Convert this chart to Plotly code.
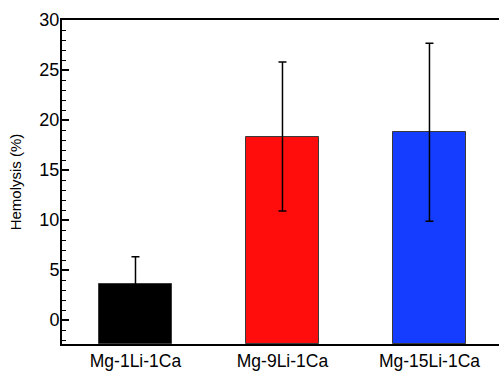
import plotly.graph_objects as go

# Hemolysis of the three Mg-Li-Ca alloys
categories = ["Mg-1Li-1Ca", "Mg-9Li-1Ca", "Mg-15Li-1Ca"]
hemolysis = [3.65, 18.35, 18.78]
hemolysis_sd = [2.68, 7.45, 8.9]
bar_colors = ["#000000", "#FF0D0D", "#153DFF"]

y_ticks = [0, 5, 10, 15, 20, 25, 30]
y_min, y_max = -2.4, 30

FONT = "Liberation Sans, Arial, sans-serif"

fig = go.Figure()
# bars rise from the bottom of the frame
fig.add_trace(go.Bar(
    x=list(range(len(categories))),
    y=[v - y_min for v in hemolysis],
    base=y_min,
    width=0.5,
    marker=dict(color=bar_colors, line=dict(color="#3a3a3a", width=1)),
    error_y=dict(type="data", array=hemolysis_sd, visible=True,
                 color="#000000", thickness=1.5, width=4),
    showlegend=False,
))

fig.update_layout(
    width=499, height=372,
    margin=dict(l=62, r=0, t=20, b=28),
    paper_bgcolor="white", plot_bgcolor="white",
    font=dict(family=FONT, color="#000000"),
    bargap=0,
    xaxis=dict(
        range=[-0.5, 2.473],
        tickmode="array",
        tickvals=list(range(len(categories))),
        ticktext=categories,
        ticks="",
        showline=True, mirror=True, linecolor="#000000", linewidth=2,
        showgrid=False, zeroline=False,
        tickfont=dict(size=17.5, family=FONT),
    ),
    yaxis=dict(
        range=[y_min, y_max],
        tickmode="array",
        tickvals=y_ticks,
        ticks="inside", ticklen=7, tickwidth=1.5, tickcolor="#000000",
        minor=dict(dtick=1, tick0=0, ticks="inside", ticklen=4, tickwidth=1.2,
                   tickcolor="#000000", showgrid=False),
        showline=True, linecolor="#000000", linewidth=2,
        showgrid=False, zeroline=False,
        tickfont=dict(size=18, family=FONT),
        ticklabelstandoff=-3,
        title=dict(text="Hemolysis (%)", font=dict(size=15, family=FONT),
                   standoff=14),
    ),
)

fig.write_html("out.html")
